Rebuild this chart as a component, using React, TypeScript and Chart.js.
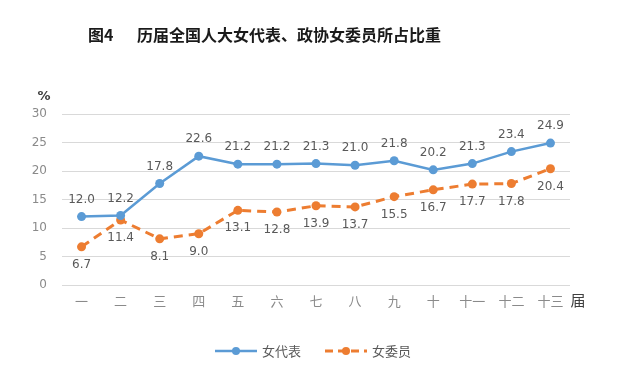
import React, { useEffect, useRef } from "react";
import { Chart, registerables } from "chart.js";

Chart.register(...registerables);

const categories = ["一", "二", "三", "四", "五", "六", "七", "八", "九", "十", "十一", "十二", "十三"];
const deputies = [12.0, 12.2, 17.8, 22.6, 21.2, 21.2, 21.3, 21.0, 21.8, 20.2, 21.3, 23.4, 24.9];
const members = [6.7, 11.4, 8.1, 9.0, 13.1, 12.8, 13.9, 13.7, 15.5, 16.7, 17.7, 17.8, 20.4];
const seriesNames = ["女代表", "女委员"];
const titlePrefix = "图4";
const titleText = "历届全国人大女代表、政协女委员所占比重";
const yUnit = "%";
const xUnit = "届";
const yMin = 0;
const yMax = 30;
const yStep = 5;

const BLUE = "#5B9BD5";
const ORANGE = "#ED7D31";
const LABEL_GRAY = "#595959";
const FONT_NUM = "DejaVu Sans, Verdana, sans-serif";
const FONT_CJK = '"Noto Sans CJK SC", sans-serif';

const decorPlugin = {
  id: "decor",
  afterDatasetsDraw(chart: any) {
    const ctx = chart.ctx;
    ctx.save();
    ctx.font = `12px ${FONT_NUM}`;
    ctx.fillStyle = LABEL_GRAY;
    ctx.textAlign = "center";
    ctx.textBaseline = "middle";
    chart.data.datasets.forEach((ds: any, di: number) => {
      const meta = chart.getDatasetMeta(di);
      meta.data.forEach((pt: any, i: number) => {
        const v = ds.data[i];
        const dy = di === 0 ? -17 : 18;
        ctx.fillText(v.toFixed(1), pt.x, pt.y + dy);
      });
    });
    ctx.restore();
  },
  afterDraw(chart: any) {
    const ctx = chart.ctx;
    const area = chart.chartArea;
    ctx.save();
    // Title
    ctx.fillStyle = "#1a1a1a";
    ctx.font = `bold 16px ${FONT_CJK}`;
    ctx.textBaseline = "middle";
    ctx.textAlign = "left";
    ctx.fillText(titlePrefix, 88, 35);
    ctx.fillText(titleText, 137, 35);
    // Units
    ctx.font = `bold 13px ${FONT_NUM}`;
    ctx.fillStyle = "#404040";
    ctx.textAlign = "center";
    ctx.fillText(yUnit, 44, 97);
    ctx.font = `15px ${FONT_CJK}`;
    ctx.fillStyle = "#404040";
    ctx.fillText(xUnit, area.right + 8, 300);
    // Legend
    const ly = 351;
    const items = [
      { x: 215, color: BLUE, dash: [] as number[], name: seriesNames[0] },
      { x: 325, color: ORANGE, dash: [8, 5], name: seriesNames[1] },
    ];
    items.forEach((it) => {
      ctx.strokeStyle = it.color;
      ctx.lineWidth = it.dash.length ? 3 : 2.5;
      ctx.setLineDash(it.dash);
      ctx.beginPath();
      ctx.moveTo(it.x, ly);
      ctx.lineTo(it.x + 42, ly);
      ctx.stroke();
      ctx.setLineDash([]);
      ctx.fillStyle = it.color;
      ctx.beginPath();
      ctx.arc(it.x + 21, ly, 4, 0, Math.PI * 2);
      ctx.fill();
      ctx.fillStyle = LABEL_GRAY;
      ctx.font = `13px ${FONT_CJK}`;
      ctx.textAlign = "left";
      ctx.fillText(it.name, it.x + 47, ly);
    });
    ctx.restore();
  },
};

export default function App() {
  const ref = useRef<HTMLCanvasElement | null>(null);
  useEffect(() => {
    document.body.style.margin = "0";
    const canvas = ref.current!;
    const chart = new Chart(canvas, {
      type: "line",
      data: {
        labels: categories,
        datasets: [
          {
            label: seriesNames[0],
            data: deputies,
            borderColor: BLUE,
            backgroundColor: BLUE,
            borderWidth: 2.5,
            pointRadius: 4.5,
            pointHoverRadius: 4.5,
            pointBackgroundColor: BLUE,
            pointBorderWidth: 0,
            tension: 0,
          },
          {
            label: seriesNames[1],
            data: members,
            borderColor: ORANGE,
            backgroundColor: ORANGE,
            borderWidth: 3,
            borderDash: [9, 6],
            pointRadius: 4.5,
            pointHoverRadius: 4.5,
            pointBackgroundColor: ORANGE,
            pointBorderWidth: 0,
            tension: 0,
          },
        ],
      },
      options: {
        animation: false,
        responsive: false,
        devicePixelRatio: 1,
        layout: { padding: { top: 114, right: 49, bottom: 69, left: 0 } },
        plugins: {
          legend: { display: false },
          title: { display: false },
          tooltip: { enabled: false },
        },
        scales: {
          x: {
            offset: true,
            grid: { display: false, drawTicks: false },
            border: { display: false },
            ticks: {
              color: "#8a8a8a",
              font: { family: FONT_CJK, size: 13 },
              padding: 8,
              maxRotation: 0,
              autoSkip: false,
            },
            afterFit(scale: any) {
              scale.height = 30;
            },
          },
          y: {
            min: yMin,
            max: yMax,
            grid: { color: "#D9D9D9", lineWidth: 1, drawTicks: false },
            border: { display: false },
            ticks: {
              stepSize: yStep,
              color: "#8a8a8a",
              font: { family: FONT_NUM, size: 12 },
              padding: 15,
            },
            afterFit(scale: any) {
              scale.width = 62;
            },
          },
        },
      },
      plugins: [decorPlugin],
    });
    return () => chart.destroy();
  }, []);
  return (
    <div style={{ position: "absolute", left: 0, top: 0, width: 619, height: 384, background: "#fff" }}>
      <canvas ref={ref} width={619} height={384} style={{ width: 619, height: 384 }} />
    </div>
  );
}
